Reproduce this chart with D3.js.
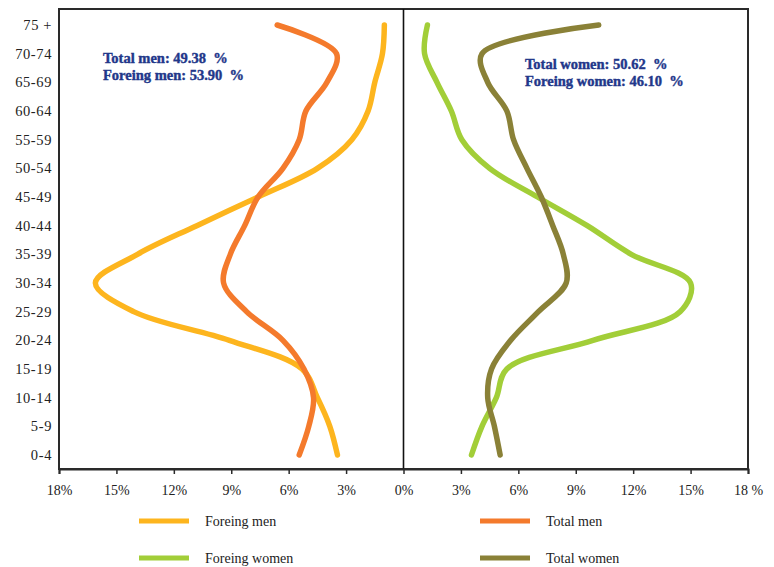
<!DOCTYPE html>
<html>
<head>
<meta charset="utf-8">
<script src="https://cdn.jsdelivr.net/npm/d3@7"></script>
<style>
  body { margin: 0; background: #fff; }
  svg { display: block; }
</style>
</head>
<body>
<div id="chart"></div>
<script>
// age groups, top to bottom
const ages = ["75 +", "70-74", "65-69", "60-64", "55-59", "50-54", "45-49", "40-44",
              "35-39", "30-34", "25-29", "20-24", "15-19", "10-14", "5-9", "0-4"];

// percentages per age group (same order as ages)
const foreignMen   = [1.0, 1.1, 1.5, 1.85, 2.7, 4.5, 7.6, 10.8, 13.9, 16.1, 14.1, 9.1, 5.3, 4.5, 3.85, 3.45];
const totalMen     = [6.6, 3.5, 4.0, 5.1, 5.45, 6.3, 7.6, 8.3, 9.05, 9.4, 8.2, 6.3, 5.2, 4.7, 4.95, 5.45];
const foreignWomen = [1.25, 1.1, 1.75, 2.5, 3.05, 4.5, 7.0, 9.6, 11.9, 15.0, 14.45, 9.9, 5.4, 4.85, 4.1, 3.55];
const totalWomen   = [10.2, 4.1, 4.4, 5.4, 5.75, 6.45, 7.2, 7.8, 8.35, 8.5, 7.05, 5.6, 4.6, 4.4, 4.75, 5.05];

const xTicks = [-18, -15, -12, -9, -6, -3, 0, 3, 6, 9, 12, 15, 18];
const xTickLabels = ["18%", "15%", "12%", "9%", "6%", "3%", "0%", "3%", "6%", "9%", "12%", "15%", "18 %"];

const notesMen = ["Total men: 49.38  %", "Foreing men: 53.90  %"];
const notesWomen = ["Total women: 50.62  %", "Foreing women: 46.10  %"];

const W = 774, H = 567;
const plotLeft = 59, plotRight = 748, plotTop = 9, plotBottom = 469;

const svg = d3.select("#chart").append("svg")
    .attr("width", W)
    .attr("height", H);

const x = d3.scaleLinear().domain([-18, 18]).range([plotLeft, plotRight]);
const y = d3.scalePoint().domain(ages).range([25, 455]);

// plot box
svg.append("rect")
    .attr("x", plotLeft).attr("y", plotTop)
    .attr("width", plotRight - plotLeft).attr("height", plotBottom - plotTop)
    .attr("fill", "none")
    .attr("stroke", "#2a2a2a")
    .attr("stroke-width", 2);

// centre line
svg.append("line")
    .attr("x1", x(0)).attr("x2", x(0))
    .attr("y1", plotTop).attr("y2", plotBottom)
    .attr("stroke", "#111")
    .attr("stroke-width", 1.6);

// bottom axis
const xAxis = svg.append("g")
    .attr("transform", "translate(0," + plotBottom + ")")
    .call(d3.axisBottom(x)
        .tickValues(xTicks)
        .tickSize(5)
        .tickPadding(11)
        .tickFormat((d, i) => xTickLabels[i]));
xAxis.select(".domain").attr("stroke", "#2a2a2a").attr("stroke-width", 2);
xAxis.selectAll(".tick line").attr("stroke", "#2a2a2a").attr("stroke-width", 1.5);
xAxis.selectAll("text")
    .attr("font-family", "Liberation Serif, serif")
    .attr("font-size", 14)
    .attr("fill", "#222");

// left axis (labels only)
const yAxis = svg.append("g")
    .attr("transform", "translate(" + plotLeft + ",0)")
    .call(d3.axisLeft(y).tickSize(0).tickPadding(7));
yAxis.select(".domain").remove();
yAxis.selectAll("text")
    .attr("font-family", "Liberation Serif, serif")
    .attr("font-size", 14.5)
    .attr("letter-spacing", 0.6)
    .attr("fill", "#222");

const series = [
    { name: "Foreing men",   values: foreignMen,   side: -1, color: "#FDB51E" },
    { name: "Total men",     values: totalMen,     side: -1, color: "#F47A2C" },
    { name: "Foreing women", values: foreignWomen, side: 1,  color: "#A2CE38" },
    { name: "Total women",   values: totalWomen,   side: 1,  color: "#8A8137" }
];

const line = d3.line()
    .curve(d3.curveCatmullRom.alpha(0.5));

series.forEach(s => {
    const pts = s.values.map((v, i) => [x(s.side * v), y(ages[i])]);
    svg.append("path")
        .attr("d", line(pts))
        .attr("fill", "none")
        .attr("stroke", s.color)
        .attr("stroke-width", 5.5)
        .attr("stroke-linecap", "round")
        .attr("stroke-linejoin", "round");
});

// annotations
function notes(lines, nx, ny) {
    svg.append("g").selectAll("text")
        .data(lines).enter()
        .append("text")
        .attr("x", nx)
        .attr("y", (d, i) => ny + i * 17)
        .attr("font-family", "Liberation Serif, serif")
        .attr("font-weight", "bold")
        .attr("font-size", 14.5)
        .attr("fill", "#22378A")
        .attr("stroke", "#22378A")
        .attr("stroke-width", 0.4)
        .style("white-space", "pre")
        .text(d => d);
}
notes(notesMen, 103, 63);
notes(notesWomen, 525, 69);

// legend
const legendPos = [[139, 521], [480, 521], [139, 558], [480, 558]];
const legend = svg.append("g").selectAll("g")
    .data(series).enter()
    .append("g")
    .attr("transform", (d, i) => "translate(" + legendPos[i][0] + "," + legendPos[i][1] + ")");
legend.append("line")
    .attr("x1", 0).attr("x2", 50)
    .attr("stroke", d => d.color)
    .attr("stroke-width", 5);
legend.append("text")
    .attr("x", 66).attr("y", 5)
    .attr("font-family", "Liberation Serif, serif")
    .attr("font-size", 14)
    .attr("fill", "#222")
    .text(d => d.name);
</script>
</body>
</html>
